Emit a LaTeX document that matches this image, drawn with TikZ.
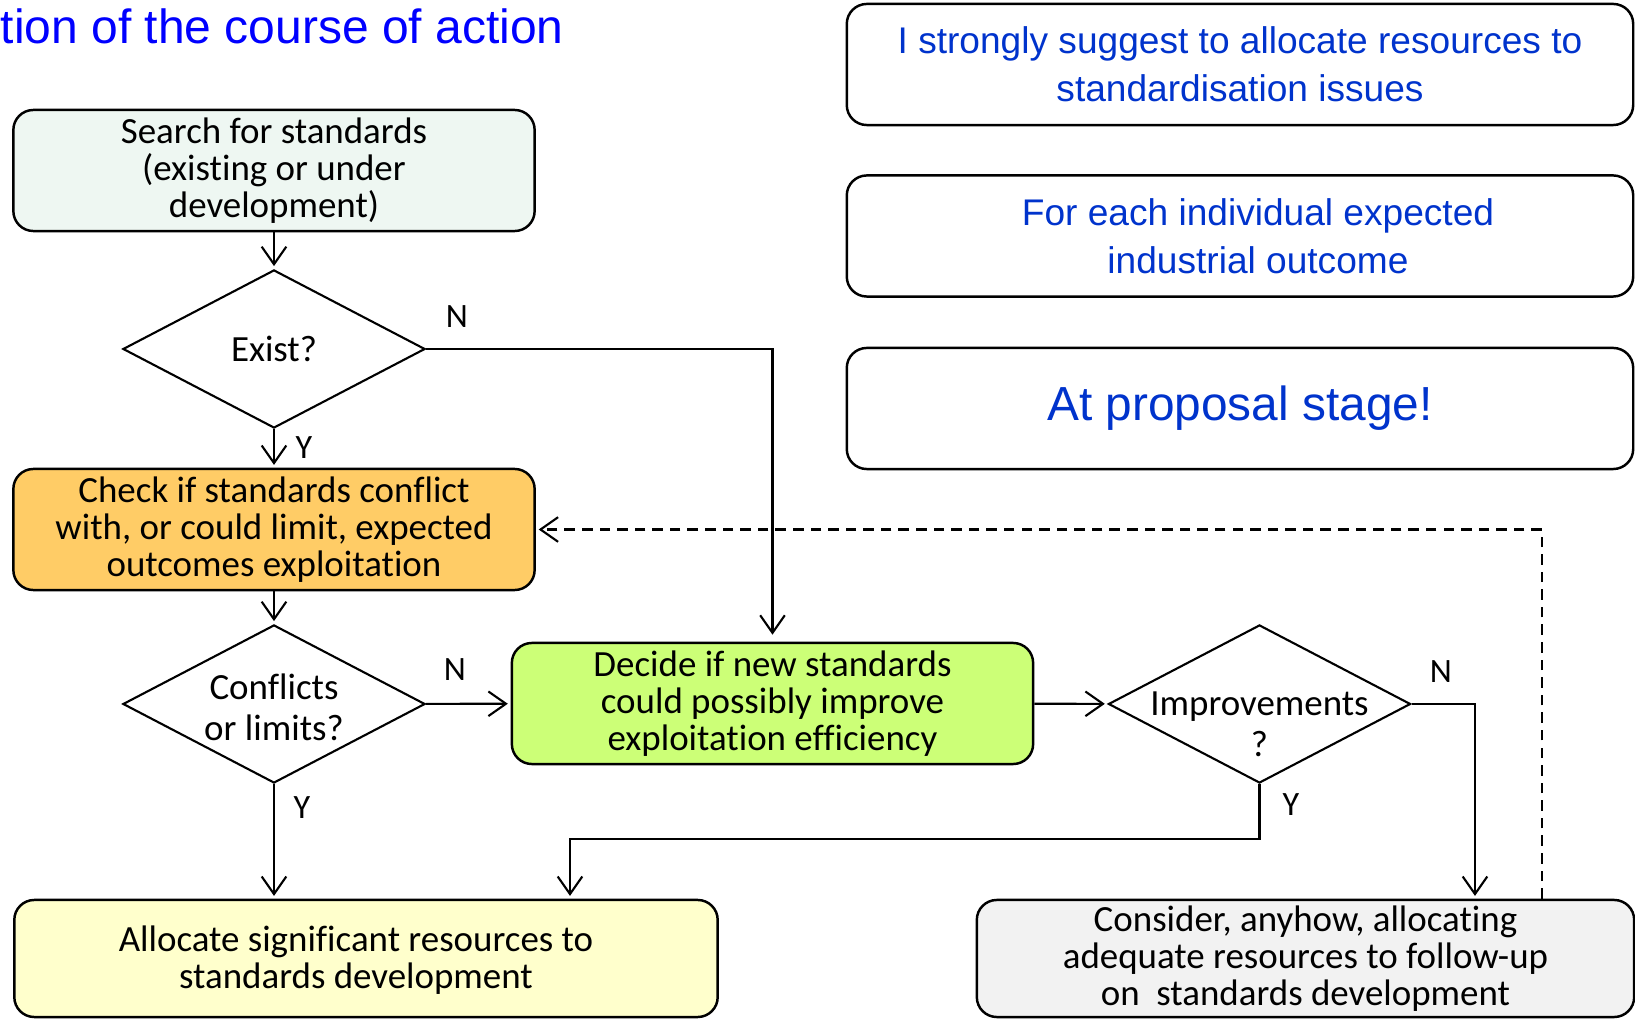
\documentclass[tikz,border=0pt]{standalone}
\usepackage{fontspec}
\setmainfont{Carlito}[Ligatures=CommonOff]
\newfontfamily\arialfont{Liberation Sans}
\usetikzlibrary{shapes.geometric,arrows.meta}

\definecolor{searchfill}{HTML}{EEF7F2}
\definecolor{checkfill}{HTML}{FFCC66}
\definecolor{decidefill}{HTML}{CCFF77}
\definecolor{allocfill}{HTML}{FFFFCC}
\definecolor{considerfill}{HTML}{F2F2F2}
\definecolor{notetext}{HTML}{0033CC}

\tikzset{
  stepbox/.style={draw, line width=0.7pt, rounded corners=0.2cm, align=center, minimum width=5.21cm, minimum height=1.21cm, inner sep=0pt, font=\fontsize{10.5}{10.6}\selectfont},
  steptext/.style={align=center, inner sep=0pt, font=\fontsize{10.5}{10.6}\selectfont},
  decision/.style={diamond, draw, line width=0.6pt, minimum width=3.02cm, minimum height=1.58cm, inner sep=0pt},
  dtext/.style={align=center, inner sep=0pt, font=\fontsize{10.5}{11.7}\selectfont},
  notebox/.style={draw, line width=0.7pt, rounded corners=0.2cm, minimum width=7.86cm, minimum height=1.21cm, align=center, text=notetext, font=\arialfont\fontsize{10.55}{13.66}\selectfont},
  notelines/.style={align=center, inner sep=0pt, text=notetext, font=\arialfont\fontsize{10.55}{13.66}\selectfont},
  yn/.style={inner sep=0pt, font=\fontsize{9.7}{10}\selectfont},
  flow/.style={line width=0.6pt, -{Straight Barb[length=5pt,width=7pt]}, shorten >=0.8pt},
}

\begin{document}
\begin{tikzpicture}[x=0.01cm, y=-0.01cm]
\useasboundingbox (0,0) rectangle (1635,1019);

% title and notes
\node[anchor=base west, inner sep=0pt, text=blue, font=\arialfont\fontsize{13.65}{16}\selectfont] (title) at (0,44) {tion of the course of action};
\node[notebox] (noteRes) at (1240,64.5) {I strongly suggest to allocate resources to\\standardisation issues};
\node[notebox] (noteEach) at (1240,236) {};
\node[notelines] (noteEachText) at (1258,236) {For each individual expected\\industrial outcome};
\node[notebox, font=\arialfont\fontsize{13.6}{16}\selectfont] (noteStage) at (1240,408.5) {At proposal stage!};

% flow
\node[stepbox, fill=searchfill] (search) at (274,170.5) {Search for standards\\(existing or under\\development)};
\node[decision] (exist) at (274,349) {};
\node[dtext] (existText) at (274,349) {Exist?};
\node[stepbox, fill=checkfill] (check) at (274,529.5) {Check if standards conflict\\with, or could limit, expected\\outcomes exploitation};
\node[decision] (conf) at (274,704) {};
\node[dtext] (confText) at (274,707.5) {Conflicts\\or limits?};
\node[stepbox, fill=decidefill] (decide) at (772.5,703.5) {Decide if new standards\\could possibly improve\\exploitation efficiency};
\node[decision] (improve) at (1259.5,704) {};
\node[dtext] (improveText) at (1259.5,724) {Improvements\\?};
\node[stepbox, fill=allocfill, minimum width=7.03cm, minimum height=1.17cm] (alloc) at (366,958.5) {};
\node[steptext] (allocText) at (356,960) {Allocate significant resources to\\standards development};
\node[stepbox, fill=considerfill, minimum width=6.57cm, minimum height=1.17cm] (consider) at (1305.5,958.5) {Consider, anyhow, allocating\\adequate resources to follow-up\\on\ \ standards development};

% answers
\node[yn] (existN) at (457,317) {N};
\node[yn] (existY) at (304,448) {Y};
\node[yn] (confN) at (455,670) {N};
\node[yn] (confY) at (302,808) {Y};
\node[yn] (improveN) at (1441,672) {N};
\node[yn] (improveY) at (1291,805) {Y};

\coordinate (noDrop) at (1475,0);
\coordinate (yesBend) at (570,839);
\coordinate (backUp) at (1542,0);

% connectors
\draw[flow] (search) -- (exist);
\draw[flow, shorten >=2pt] (exist.east) -| (decide.north);
\draw[flow] (exist) -- (check);
\draw[flow] (check) -- (conf);
\draw[flow] (conf) -- (decide);
\draw[flow] (conf.south) -- (conf.south |- alloc.north);
\draw[flow] (decide) -- (improve);
\draw[flow] (improve.east) -| (noDrop |- consider.north);
\draw[flow] (improve.south) |- (yesBend) -- (yesBend |- alloc.north);
\draw[flow, dash pattern=on 3pt off 2pt] (backUp |- consider.north) |- (check.east);
\end{tikzpicture}
\end{document}
